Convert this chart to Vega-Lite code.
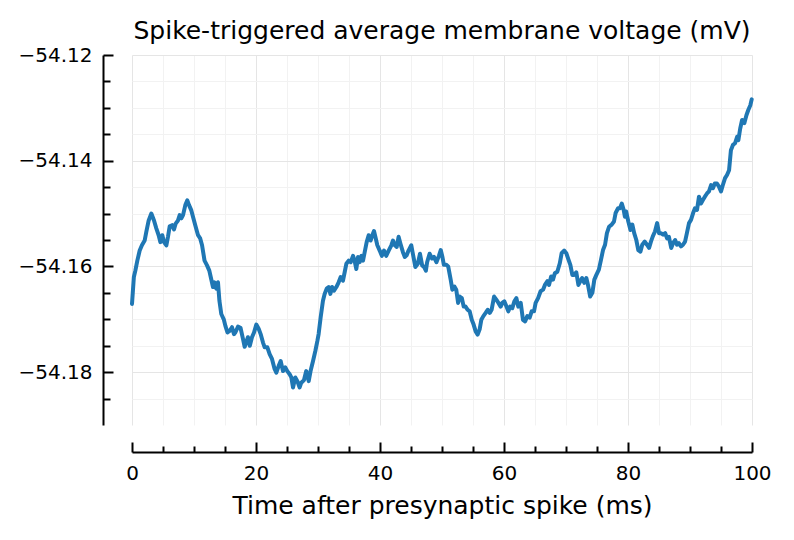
{
  "$schema": "https://vega.github.io/schema/vega-lite/v6.json",
  "width": 620,
  "height": 370,
  "autosize": {"type": "none"},
  "padding": {"left": 132, "top": 55, "right": 42, "bottom": 115},
  "background": "white",
  "config": {"view": {"stroke": null}, "font": "DejaVu Sans"},
  "title": {"text": "Spike-triggered average membrane voltage (mV)", "fontSize": 25, "font": "DejaVu Sans", "fontWeight": "normal", "color": "black", "anchor": "middle", "frame": "group", "baseline": "alphabetic", "offset": -19},
  "datasets": {
    "v": [
      {"t": 0, "v": -54.1671}, {"t": 0.3, "v": -54.162}, {"t": 0.54, "v": -54.1608}, {"t": 0.86, "v": -54.1589}, {"t": 1.24, "v": -54.157}, {"t": 1.6, "v": -54.156}, {"t": 2.04, "v": -54.1551}, {"t": 2.3, "v": -54.1535}, {"t": 2.69, "v": -54.1513}, {"t": 3.12, "v": -54.15}, {"t": 3.55, "v": -54.1513}, {"t": 3.92, "v": -54.1528}, {"t": 4.3, "v": -54.1541}, {"t": 4.57, "v": -54.1554}, {"t": 4.89, "v": -54.1541}, {"t": 5.16, "v": -54.1554}, {"t": 5.54, "v": -54.156}, {"t": 5.8, "v": -54.1544}, {"t": 6.08, "v": -54.1524}, {"t": 6.45, "v": -54.1522}, {"t": 6.77, "v": -54.153}, {"t": 7.04, "v": -54.1519}, {"t": 7.42, "v": -54.1513}, {"t": 7.69, "v": -54.1503}, {"t": 7.96, "v": -54.1509}, {"t": 8.23, "v": -54.1503}, {"t": 8.6, "v": -54.1484}, {"t": 8.92, "v": -54.1475}, {"t": 9.2, "v": -54.1484}, {"t": 9.57, "v": -54.1494}, {"t": 9.9, "v": -54.1509}, {"t": 10.27, "v": -54.1525}, {"t": 10.65, "v": -54.1541}, {"t": 11.0, "v": -54.1547}, {"t": 11.3, "v": -54.156}, {"t": 11.7, "v": -54.1589}, {"t": 12.1, "v": -54.1598}, {"t": 12.47, "v": -54.1608}, {"t": 12.7, "v": -54.162}, {"t": 13.06, "v": -54.1639}, {"t": 13.3, "v": -54.163}, {"t": 13.6, "v": -54.1642}, {"t": 13.87, "v": -54.163}, {"t": 14.1, "v": -54.1665}, {"t": 14.4, "v": -54.169}, {"t": 14.8, "v": -54.17}, {"t": 15.05, "v": -54.1712}, {"t": 15.4, "v": -54.1725}, {"t": 15.75, "v": -54.1722}, {"t": 16.13, "v": -54.1715}, {"t": 16.45, "v": -54.1728}, {"t": 16.67, "v": -54.1725}, {"t": 17.1, "v": -54.1714}, {"t": 17.5, "v": -54.1716}, {"t": 17.9, "v": -54.1737}, {"t": 18.17, "v": -54.1752}, {"t": 18.44, "v": -54.1743}, {"t": 18.7, "v": -54.1734}, {"t": 19.0, "v": -54.175}, {"t": 19.35, "v": -54.1734}, {"t": 19.68, "v": -54.1725}, {"t": 20.05, "v": -54.171}, {"t": 20.43, "v": -54.1718}, {"t": 20.75, "v": -54.1728}, {"t": 21.13, "v": -54.1744}, {"t": 21.4, "v": -54.1753}, {"t": 21.83, "v": -54.1753}, {"t": 22.2, "v": -54.1766}, {"t": 22.58, "v": -54.1775}, {"t": 23.0, "v": -54.1794}, {"t": 23.28, "v": -54.1801}, {"t": 23.66, "v": -54.1788}, {"t": 23.98, "v": -54.1779}, {"t": 24.35, "v": -54.1798}, {"t": 24.73, "v": -54.1791}, {"t": 25.05, "v": -54.1798}, {"t": 25.43, "v": -54.1804}, {"t": 25.7, "v": -54.181}, {"t": 25.97, "v": -54.1829}, {"t": 26.34, "v": -54.181}, {"t": 26.67, "v": -54.1817}, {"t": 27.04, "v": -54.1829}, {"t": 27.3, "v": -54.182}, {"t": 27.74, "v": -54.1815}, {"t": 28.1, "v": -54.1798}, {"t": 28.5, "v": -54.1817}, {"t": 28.8, "v": -54.1798}, {"t": 29.2, "v": -54.1779}, {"t": 29.57, "v": -54.176}, {"t": 29.9, "v": -54.1741}, {"t": 30.1, "v": -54.1728}, {"t": 30.43, "v": -54.1696}, {"t": 30.8, "v": -54.1665}, {"t": 31.07, "v": -54.1652}, {"t": 31.4, "v": -54.1642}, {"t": 31.72, "v": -54.1639}, {"t": 32.0, "v": -54.1652}, {"t": 32.26, "v": -54.1639}, {"t": 32.58, "v": -54.1646}, {"t": 32.96, "v": -54.1639}, {"t": 33.33, "v": -54.163}, {"t": 33.66, "v": -54.162}, {"t": 34.03, "v": -54.1627}, {"t": 34.3, "v": -54.1611}, {"t": 34.57, "v": -54.1595}, {"t": 34.95, "v": -54.1589}, {"t": 35.27, "v": -54.1592}, {"t": 35.65, "v": -54.158}, {"t": 35.9, "v": -54.1589}, {"t": 36.18, "v": -54.1605}, {"t": 36.45, "v": -54.1582}, {"t": 36.72, "v": -54.1592}, {"t": 37.0, "v": -54.158}, {"t": 37.26, "v": -54.1589}, {"t": 37.53, "v": -54.1573}, {"t": 37.85, "v": -54.1554}, {"t": 38.17, "v": -54.1541}, {"t": 38.5, "v": -54.1551}, {"t": 38.76, "v": -54.1541}, {"t": 39.03, "v": -54.1533}, {"t": 39.25, "v": -54.1544}, {"t": 39.57, "v": -54.156}, {"t": 39.95, "v": -54.157}, {"t": 40.3, "v": -54.158}, {"t": 40.65, "v": -54.157}, {"t": 41.0, "v": -54.158}, {"t": 41.4, "v": -54.157}, {"t": 41.83, "v": -54.156}, {"t": 42.1, "v": -54.1551}, {"t": 42.4, "v": -54.156}, {"t": 42.7, "v": -54.1563}, {"t": 43.0, "v": -54.1544}, {"t": 43.3, "v": -54.1557}, {"t": 43.7, "v": -54.1573}, {"t": 44.0, "v": -54.1582}, {"t": 44.3, "v": -54.1579}, {"t": 44.6, "v": -54.157}, {"t": 45.05, "v": -54.156}, {"t": 45.3, "v": -54.1576}, {"t": 45.7, "v": -54.1601}, {"t": 46.1, "v": -54.1595}, {"t": 46.45, "v": -54.1576}, {"t": 46.8, "v": -54.1598}, {"t": 47.1, "v": -54.1601}, {"t": 47.4, "v": -54.1608}, {"t": 47.6, "v": -54.1592}, {"t": 48.0, "v": -54.1576}, {"t": 48.4, "v": -54.1585}, {"t": 48.7, "v": -54.1582}, {"t": 49.1, "v": -54.1592}, {"t": 49.5, "v": -54.158}, {"t": 49.8, "v": -54.1569}, {"t": 50.05, "v": -54.1581}, {"t": 50.3, "v": -54.1597}, {"t": 50.7, "v": -54.1597}, {"t": 51.0, "v": -54.16}, {"t": 51.4, "v": -54.1625}, {"t": 51.67, "v": -54.1644}, {"t": 52.0, "v": -54.1638}, {"t": 52.3, "v": -54.1644}, {"t": 52.6, "v": -54.1669}, {"t": 52.85, "v": -54.1657}, {"t": 53.2, "v": -54.166}, {"t": 53.5, "v": -54.1676}, {"t": 53.8, "v": -54.1676}, {"t": 54.14, "v": -54.1682}, {"t": 54.46, "v": -54.1685}, {"t": 54.8, "v": -54.1701}, {"t": 55.1, "v": -54.171}, {"t": 55.43, "v": -54.1723}, {"t": 55.75, "v": -54.1729}, {"t": 56.07, "v": -54.1719}, {"t": 56.34, "v": -54.1701}, {"t": 56.67, "v": -54.1694}, {"t": 57.04, "v": -54.1688}, {"t": 57.37, "v": -54.1682}, {"t": 57.7, "v": -54.1688}, {"t": 58.0, "v": -54.1682}, {"t": 58.4, "v": -54.1657}, {"t": 58.76, "v": -54.1663}, {"t": 59.1, "v": -54.1669}, {"t": 59.46, "v": -54.1676}, {"t": 59.73, "v": -54.1669}, {"t": 60.05, "v": -54.1666}, {"t": 60.4, "v": -54.1676}, {"t": 60.7, "v": -54.1685}, {"t": 61.0, "v": -54.1676}, {"t": 61.34, "v": -54.1679}, {"t": 61.67, "v": -54.1666}, {"t": 62.0, "v": -54.166}, {"t": 62.3, "v": -54.1676}, {"t": 62.7, "v": -54.1669}, {"t": 63.06, "v": -54.1701}, {"t": 63.4, "v": -54.1704}, {"t": 63.76, "v": -54.1694}, {"t": 64.14, "v": -54.1697}, {"t": 64.46, "v": -54.1685}, {"t": 64.84, "v": -54.1685}, {"t": 65.1, "v": -54.1669}, {"t": 65.5, "v": -54.166}, {"t": 65.9, "v": -54.1647}, {"t": 66.3, "v": -54.1644}, {"t": 66.6, "v": -54.1635}, {"t": 67.0, "v": -54.1628}, {"t": 67.26, "v": -54.1635}, {"t": 67.6, "v": -54.1619}, {"t": 67.9, "v": -54.1625}, {"t": 68.2, "v": -54.1613}, {"t": 68.6, "v": -54.161}, {"t": 69.0, "v": -54.1594}, {"t": 69.3, "v": -54.1575}, {"t": 69.7, "v": -54.157}, {"t": 70.05, "v": -54.1575}, {"t": 70.4, "v": -54.1587}, {"t": 70.7, "v": -54.1597}, {"t": 71.02, "v": -54.1616}, {"t": 71.34, "v": -54.1616}, {"t": 71.66, "v": -54.1611}, {"t": 72.0, "v": -54.1635}, {"t": 72.3, "v": -54.1628}, {"t": 72.6, "v": -54.1622}, {"t": 72.96, "v": -54.1631}, {"t": 73.28, "v": -54.1622}, {"t": 73.6, "v": -54.1638}, {"t": 73.9, "v": -54.1657}, {"t": 74.25, "v": -54.165}, {"t": 74.57, "v": -54.1625}, {"t": 74.9, "v": -54.1616}, {"t": 75.3, "v": -54.1606}, {"t": 75.65, "v": -54.1587}, {"t": 75.97, "v": -54.1569}, {"t": 76.3, "v": -54.1559}, {"t": 76.6, "v": -54.1537}, {"t": 76.94, "v": -54.1525}, {"t": 77.37, "v": -54.1521}, {"t": 77.74, "v": -54.1515}, {"t": 78.0, "v": -54.1499}, {"t": 78.4, "v": -54.149}, {"t": 78.7, "v": -54.149}, {"t": 79.0, "v": -54.1481}, {"t": 79.3, "v": -54.1493}, {"t": 79.5, "v": -54.1506}, {"t": 79.7, "v": -54.1496}, {"t": 80.05, "v": -54.1515}, {"t": 80.4, "v": -54.1531}, {"t": 80.7, "v": -54.1521}, {"t": 81.0, "v": -54.1537}, {"t": 81.34, "v": -54.155}, {"t": 81.66, "v": -54.1569}, {"t": 82.0, "v": -54.1572}, {"t": 82.3, "v": -54.1559}, {"t": 82.7, "v": -54.1553}, {"t": 83.06, "v": -54.1559}, {"t": 83.4, "v": -54.1565}, {"t": 83.7, "v": -54.1553}, {"t": 84.0, "v": -54.1543}, {"t": 84.35, "v": -54.1534}, {"t": 84.7, "v": -54.1518}, {"t": 85.0, "v": -54.1537}, {"t": 85.3, "v": -54.1537}, {"t": 85.66, "v": -54.154}, {"t": 86.0, "v": -54.1537}, {"t": 86.3, "v": -54.1547}, {"t": 86.6, "v": -54.1544}, {"t": 86.97, "v": -54.1565}, {"t": 87.26, "v": -54.1556}, {"t": 87.6, "v": -54.155}, {"t": 87.9, "v": -54.1559}, {"t": 88.2, "v": -54.1556}, {"t": 88.55, "v": -54.1562}, {"t": 88.87, "v": -54.1559}, {"t": 89.2, "v": -54.1553}, {"t": 89.5, "v": -54.1537}, {"t": 89.84, "v": -54.1518}, {"t": 90.16, "v": -54.1512}, {"t": 90.5, "v": -54.1499}, {"t": 90.8, "v": -54.149}, {"t": 91.13, "v": -54.1493}, {"t": 91.45, "v": -54.1468}, {"t": 91.77, "v": -54.1481}, {"t": 92.1, "v": -54.1474}, {"t": 92.4, "v": -54.1468}, {"t": 92.74, "v": -54.1462}, {"t": 93.06, "v": -54.1458}, {"t": 93.4, "v": -54.1446}, {"t": 93.7, "v": -54.1452}, {"t": 94.0, "v": -54.1443}, {"t": 94.35, "v": -54.1443}, {"t": 94.67, "v": -54.1449}, {"t": 95.0, "v": -54.1458}, {"t": 95.3, "v": -54.1446}, {"t": 95.65, "v": -54.1433}, {"t": 95.97, "v": -54.1427}, {"t": 96.3, "v": -54.1418}, {"t": 96.6, "v": -54.138}, {"t": 96.94, "v": -54.137}, {"t": 97.26, "v": -54.1367}, {"t": 97.6, "v": -54.1355}, {"t": 97.8, "v": -54.1361}, {"t": 98.1, "v": -54.1339}, {"t": 98.4, "v": -54.1323}, {"t": 98.76, "v": -54.1329}, {"t": 99.1, "v": -54.1314}, {"t": 99.4, "v": -54.1304}, {"t": 99.73, "v": -54.1295}, {"t": 99.95, "v": -54.1284}
    ]
  },
  "data": {"name": "v"},
  "layer": [
    {
      "mark": {"type": "line", "opacity": 0},
      "encoding": {
        "x": {"field": "t", "type": "quantitative", "scale": {"domain": [0, 100], "nice": false, "zero": false},
          "axis": {"orient": "bottom", "offset": 27, "values": [5, 10, 15, 25, 30, 35, 45, 50, 55, 65, 70, 75, 85, 90, 95], "labels": false, "domain": false, "title": null, "tickSize": -6, "tickWidth": 2, "tickColor": "black", "grid": true, "gridColor": "#f2f2f2", "gridWidth": 1}},
        "y": {"field": "v", "type": "quantitative", "scale": {"domain": [-54.19, -54.12], "nice": false, "zero": false},
          "axis": {"orient": "left", "offset": 29, "values": [-54.185, -54.175, -54.17, -54.165, -54.155, -54.15, -54.145, -54.135, -54.13, -54.125], "labels": false, "domain": false, "title": null, "tickSize": -7, "tickWidth": 2, "tickColor": "black", "grid": true, "gridColor": "#f2f2f2", "gridWidth": 1}}
      }
    },
    {
      "mark": {"type": "line", "color": "#1f77b4", "strokeWidth": 4, "strokeJoin": "round", "strokeCap": "round"},
      "encoding": {
        "x": {"field": "t", "type": "quantitative",
          "axis": {"orient": "bottom", "offset": 27, "values": [0, 20, 40, 60, 80, 100], "format": "d", "labelFontSize": 20, "labelFont": "DejaVu Sans", "labelColor": "black", "labelPadding": 21, "labelFlush": false, "labelOverlap": false, "domain": true, "domainColor": "black", "domainWidth": 2, "tickSize": -10, "tickWidth": 2, "tickColor": "black", "grid": true, "gridColor": "#e5e5e5", "gridWidth": 1, "title": "Time after presynaptic spike (ms)", "titleFont": "DejaVu Sans", "titleFontSize": 25, "titleFontWeight": "normal", "titleColor": "black", "titleBaseline": "alphabetic", "titleY": 61}},
        "y": {"field": "v", "type": "quantitative",
          "axis": {"orient": "left", "offset": 29, "values": [-54.18, -54.16, -54.14, -54.12], "format": ".2f", "labelFontSize": 20, "labelFont": "DejaVu Sans", "labelColor": "black", "labelPadding": 21, "labelFlush": false, "labelOverlap": false, "domain": true, "domainColor": "black", "domainWidth": 2, "tickSize": -10, "tickWidth": 2, "tickColor": "black", "grid": true, "gridColor": "#e5e5e5", "gridWidth": 1, "title": null}}
      }
    }
  ],
  "resolve": {"axis": {"x": "independent", "y": "independent"}}
}
